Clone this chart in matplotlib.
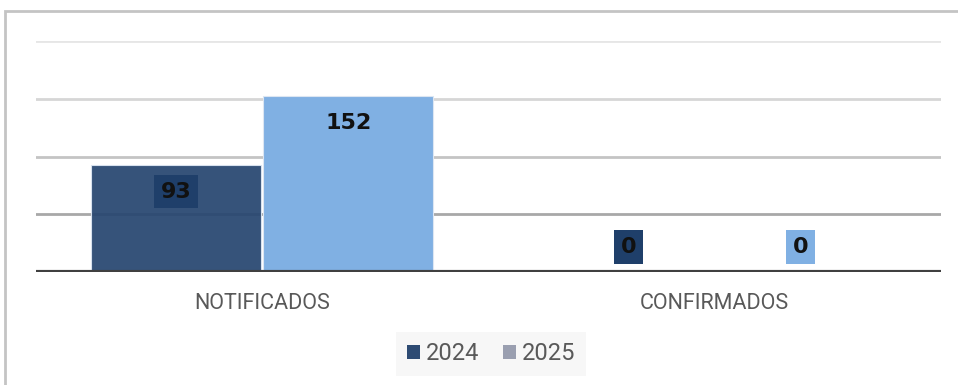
import matplotlib
matplotlib.use("Agg")
import matplotlib.pyplot as plt
from matplotlib.patches import Rectangle, Patch
import numpy as np

categories = ["NOTIFICADOS", "CONFIRMADOS"]
series_names = ["2024", "2025"]
values_2024 = [93, 0]
values_2025 = [152, 0]
y_ticks = [0, 50, 100, 150, 200]

bar_colors = ["#274670", "#80B0E3"]
bar_alpha = [0.93, 1.0]
label_box_colors = ["#1F3F6A", "#80B0E3"]
legend_colors = ["#2E4B73", "#9A9FB0"]
grid_colors = ["#A8A8A8", "#C4C4C4", "#D6D6D6", "#E6E6E6"]

W, H = 958, 385
fig = plt.figure(figsize=(W / 100, H / 100), dpi=100)
fig.patch.set_facecolor("white")

# outer frame (top and left edges visible)
fig.add_artist(Rectangle((5 / W, -0.1), 1.2, (H - 11) / H + 0.1,
                         transform=fig.transFigure, fill=False,
                         edgecolor="#C4C4C4", linewidth=2))

ax_left, ax_right = 36 / W, 941 / W
ax_bottom, ax_top = (H - 272) / H, (H - 41) / H
ax = fig.add_axes([ax_left, ax_bottom, ax_right - ax_left, ax_top - ax_bottom])
ax.set_facecolor("none")
ax.set_xlim(-0.5, 1.5)
ax.set_ylim(0, 200)

for t, c in zip(y_ticks[1:], grid_colors):
    ax.axhline(t, color=c, linewidth=2, zorder=1)

x = np.arange(len(categories))
bw = 0.376
off = 0.19
series = [values_2024, values_2025]
for i, vals in enumerate(series):
    xs = x + (i * 2 - 1) * off
    ax.bar(xs, vals, width=bw, color=bar_colors[i], alpha=bar_alpha[i],
           edgecolor="#DCE6F2", linewidth=0.8, zorder=2)
    for xi, v in zip(xs, vals):
        dy = -27 if v > 0 else 25
        ax.annotate(f"{v}", (xi, v), xytext=(0, dy), textcoords="offset pixels",
                    ha="center", va="center", fontsize=16, fontweight="bold",
                    family="DejaVu Sans", color="#111111", zorder=5,
                    bbox=dict(boxstyle="square,pad=0.3",
                              facecolor=label_box_colors[i], edgecolor="none"))

ax.axhline(0, color="#404040", linewidth=3, zorder=4)

for s in ax.spines.values():
    s.set_visible(False)
ax.set_yticks([])
ax.set_xticks(x)
ax.set_xticklabels(categories, family="Roboto", fontsize=15.5, color="#595959")
ax.tick_params(axis="x", length=0, pad=15)

handles = [Patch(facecolor=c, edgecolor="none") for c in legend_colors]
leg = fig.legend(handles, series_names, loc="center", bbox_to_anchor=(491 / W, 1 - 354 / H),
                 ncol=2, frameon=True, fancybox=False,
                 prop={"family": "Roboto", "size": 17},
                 handlelength=0.55, handleheight=0.55, handletextpad=0.25,
                 columnspacing=1.0, borderpad=0.45)
leg.get_frame().set_facecolor("#F6F6F6")
leg.get_frame().set_edgecolor("none")
for t in leg.get_texts():
    t.set_color("#595959")

fig.savefig("out.png", dpi=100, facecolor="white")
